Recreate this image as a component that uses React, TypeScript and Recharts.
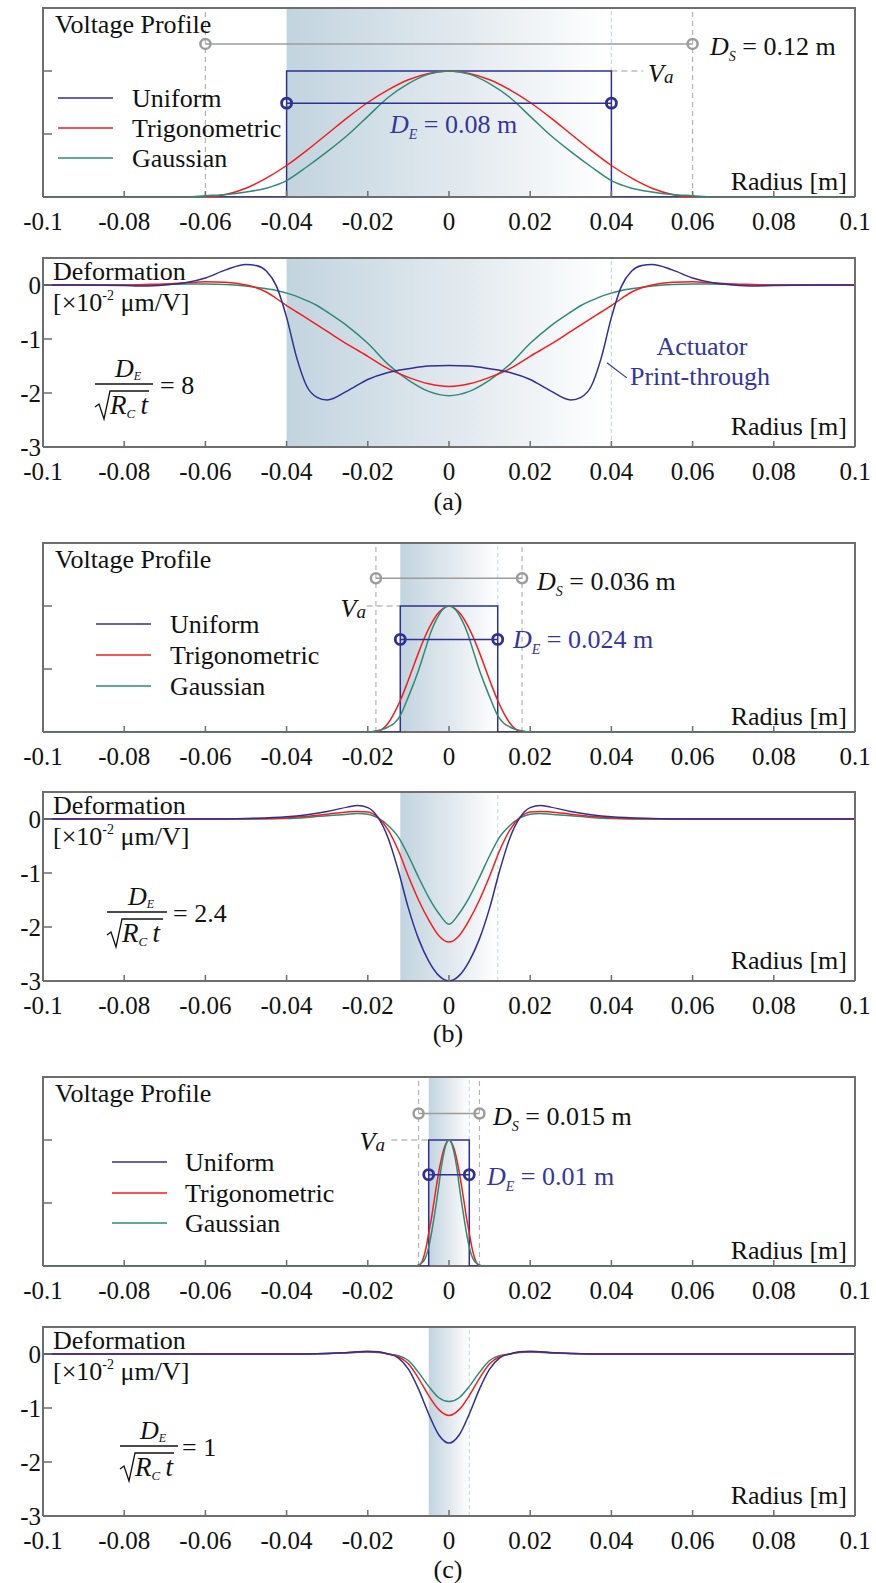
import {
  ComposedChart,
  Line,
  ReferenceArea,
  ReferenceDot,
  ReferenceLine,
  XAxis,
  YAxis,
} from "recharts";

// ---------- values ----------
const RADIUS_TICKS = [-0.1, -0.08, -0.06, -0.04, -0.02, 0, 0.02, 0.04, 0.06, 0.08, 0.1];
const VOLT_TICKS = [0.5, 1];
const DEFORM_TICKS = [-3, -2, -1, 0];
const LEGEND = ["Uniform", "Trigonometric", "Gaussian"];

// uniform (step) voltage profile
const STEP_LEVEL = [0, 0, 1, 1, 0, 0];
const R_STEP_A = [-0.1, -0.04, -0.04, 0.04, 0.04, 0.1];
const R_STEP_B = [-0.1, -0.012, -0.012, 0.012, 0.012, 0.1];
const R_STEP_C = [-0.1, -0.005, -0.005, 0.005, 0.005, 0.1];

// (a) voltage, trigonometric + gaussian
const R_VOLT_A = [
  -0.1, -0.065, -0.06, -0.055, -0.05, -0.045, -0.04, -0.035, -0.03, -0.025, -0.02, -0.015, -0.01, -0.005, 0,
  0.005, 0.01, 0.015, 0.02, 0.025, 0.03, 0.035, 0.04, 0.045, 0.05, 0.055, 0.06, 0.065, 0.1,
];
const TRIG_VOLT_A = [
  0, 0, 0, 0.02, 0.07, 0.15, 0.25, 0.37, 0.5, 0.63, 0.75, 0.85, 0.93, 0.98, 1,
  0.98, 0.93, 0.85, 0.75, 0.63, 0.5, 0.37, 0.25, 0.15, 0.07, 0.02, 0, 0, 0,
];
const GAUSS_VOLT_A = [
  0, 0, 0.01, 0.02, 0.04, 0.07, 0.13, 0.24, 0.36, 0.49, 0.64, 0.79, 0.9, 0.975, 1,
  0.975, 0.9, 0.79, 0.64, 0.49, 0.36, 0.24, 0.13, 0.07, 0.04, 0.02, 0.01, 0, 0,
];

// (b) voltage
const R_VOLT_B = [
  -0.1, -0.0195, -0.018, -0.0165, -0.015, -0.0135, -0.012, -0.0105, -0.009, -0.0075, -0.006, -0.0045, -0.003, -0.0015, 0,
  0.0015, 0.003, 0.0045, 0.006, 0.0075, 0.009, 0.0105, 0.012, 0.0135, 0.015, 0.0165, 0.018, 0.0195, 0.1,
];
const TRIG_VOLT_B = [
  0, 0, 0, 0.02, 0.07, 0.15, 0.25, 0.37, 0.5, 0.63, 0.75, 0.85, 0.93, 0.98, 1,
  0.98, 0.93, 0.85, 0.75, 0.63, 0.5, 0.37, 0.25, 0.15, 0.07, 0.02, 0, 0, 0,
];
const GAUSS_VOLT_B = [
  0, 0, 0.01, 0.02, 0.04, 0.07, 0.13, 0.24, 0.36, 0.49, 0.64, 0.79, 0.9, 0.975, 1,
  0.975, 0.9, 0.79, 0.64, 0.49, 0.36, 0.24, 0.13, 0.07, 0.04, 0.02, 0.01, 0, 0,
];

// (c) voltage
const R_VOLT_C = [
  -0.1, -0.008125, -0.0075, -0.006875, -0.00625, -0.005625, -0.005, -0.004375, -0.00375, -0.003125, -0.0025,
  -0.001875, -0.00125, -0.000625, 0, 0.000625, 0.00125, 0.001875, 0.0025, 0.003125, 0.00375, 0.004375, 0.005,
  0.005625, 0.00625, 0.006875, 0.0075, 0.008125, 0.1,
];
const TRIG_VOLT_C = [
  0, 0, 0, 0.02, 0.07, 0.15, 0.26, 0.37, 0.5, 0.63, 0.75, 0.85, 0.93, 0.98, 1,
  0.98, 0.93, 0.85, 0.75, 0.63, 0.5, 0.37, 0.26, 0.15, 0.07, 0.02, 0, 0, 0,
];
const GAUSS_VOLT_C = [
  0, 0, 0.01, 0.02, 0.04, 0.08, 0.15, 0.25, 0.37, 0.5, 0.64, 0.79, 0.9, 0.975, 1,
  0.975, 0.9, 0.79, 0.64, 0.5, 0.37, 0.25, 0.15, 0.08, 0.04, 0.02, 0.01, 0, 0,
];

// (a) deformation
const R_DEF_A = [
  -0.1, -0.09, -0.08, -0.075, -0.07, -0.065, -0.06, -0.055, -0.05, -0.0475, -0.045, -0.0425, -0.04, -0.0375, -0.035,
  -0.0325, -0.03, -0.025, -0.02, -0.015, -0.01, -0.005, 0, 0.005, 0.01, 0.015, 0.02, 0.025, 0.03, 0.0325, 0.035,
  0.0375, 0.04, 0.0425, 0.045, 0.0475, 0.05, 0.055, 0.06, 0.065, 0.07, 0.075, 0.08, 0.09, 0.1,
];
const UNI_DEF_A = [
  0, 0, -0.01, -0.02, 0, 0.04, 0.13, 0.28, 0.38, 0.36, 0.26, -0.02, -0.6, -1.35, -1.88,
  -2.08, -2.13, -1.96, -1.75, -1.62, -1.55, -1.5, -1.49, -1.5, -1.55, -1.62, -1.75, -1.96, -2.13, -2.08, -1.88,
  -1.35, -0.6, -0.02, 0.26, 0.36, 0.38, 0.28, 0.13, 0.04, 0, -0.02, -0.01, 0, 0,
];
const TRIG_DEF_A = [
  0, 0, 0, 0.01, 0.02, 0.04, 0.06, 0.05, 0, -0.05, -0.13, -0.25, -0.38, -0.5, -0.62,
  -0.74, -0.86, -1.1, -1.32, -1.55, -1.71, -1.83, -1.88, -1.83, -1.71, -1.55, -1.32, -1.1, -0.86, -0.74, -0.62,
  -0.5, -0.38, -0.25, -0.13, -0.05, 0, 0.05, 0.06, 0.04, 0.02, 0.01, 0, 0, 0,
];
const GAUSS_DEF_A = [
  0, 0, 0, 0, 0.01, 0.02, 0.02, 0.01, -0.02, -0.04, -0.07, -0.1, -0.15, -0.21, -0.29,
  -0.38, -0.5, -0.76, -1.08, -1.47, -1.76, -1.97, -2.05, -1.97, -1.76, -1.47, -1.08, -0.76, -0.5, -0.38, -0.29,
  -0.21, -0.15, -0.1, -0.07, -0.04, -0.02, 0.01, 0.02, 0.02, 0.01, 0, 0, 0, 0,
];

// (b) deformation
const R_DEF_B = [
  -0.1, -0.06, -0.05, -0.04, -0.035, -0.03, -0.025, -0.0225, -0.02, -0.0175, -0.015, -0.0125, -0.01, -0.0075, -0.005,
  -0.0025, 0, 0.0025, 0.005, 0.0075, 0.01, 0.0125, 0.015, 0.0175, 0.02, 0.0225, 0.025, 0.03, 0.035, 0.04, 0.05,
  0.06, 0.1,
];
const UNI_DEF_B = [
  0, 0, 0.01, 0.04, 0.08, 0.14, 0.22, 0.25, 0.21, 0.03, -0.35, -0.95, -1.65, -2.22, -2.63,
  -2.9, -3, -2.9, -2.63, -2.22, -1.65, -0.95, -0.35, 0.03, 0.21, 0.25, 0.22, 0.14, 0.08, 0.04, 0.01,
  0, 0,
];
const TRIG_DEF_B = [
  0, 0, 0.005, 0.02, 0.05, 0.09, 0.13, 0.14, 0.13, 0.03, -0.2, -0.58, -1.06, -1.5, -1.87,
  -2.16, -2.28, -2.16, -1.87, -1.5, -1.06, -0.58, -0.2, 0.03, 0.13, 0.14, 0.13, 0.09, 0.05, 0.02, 0.005,
  0, 0,
];
const GAUSS_DEF_B = [
  0, 0, 0, 0.01, 0.03, 0.06, 0.09, 0.1, 0.09, 0.02, -0.12, -0.33, -0.68, -1.08, -1.45,
  -1.75, -1.95, -1.75, -1.45, -1.08, -0.68, -0.33, -0.12, 0.02, 0.09, 0.1, 0.09, 0.06, 0.03, 0.01, 0,
  0, 0,
];

// (c) deformation
const R_DEF_C = [
  -0.1, -0.04, -0.03, -0.025, -0.02, -0.0175, -0.015, -0.0125, -0.01, -0.0075, -0.005, -0.0025, 0,
  0.0025, 0.005, 0.0075, 0.01, 0.0125, 0.015, 0.0175, 0.02, 0.025, 0.03, 0.04, 0.1,
];
const UNI_DEF_C = [
  0, 0, 0.01, 0.03, 0.05, 0.04, 0, -0.07, -0.28, -0.65, -1.11, -1.5, -1.65,
  -1.5, -1.11, -0.65, -0.28, -0.07, 0, 0.04, 0.05, 0.03, 0.01, 0, 0,
];
const TRIG_DEF_C = [
  0, 0, 0.01, 0.025, 0.04, 0.035, 0, -0.05, -0.18, -0.45, -0.77, -1.03, -1.14,
  -1.03, -0.77, -0.45, -0.18, -0.05, 0, 0.035, 0.04, 0.025, 0.01, 0, 0,
];
const GAUSS_DEF_C = [
  0, 0, 0.01, 0.02, 0.035, 0.03, 0, -0.03, -0.12, -0.34, -0.6, -0.81, -0.88,
  -0.81, -0.6, -0.34, -0.12, -0.03, 0, 0.03, 0.035, 0.02, 0.01, 0, 0,
];

// ---------- layout / style ----------
const W = 876;
const H = 1583;
const PLOT_L = 43;
const PLOT_R = 855;
const PLOT_H = 189;
const AXIS_H = 46;
const TOP = { aV: 8, aD: 258, bV: 543, bD: 792, cV: 1077, cD: 1327 };

const FONT = "Liberation Serif, Times New Roman, Times, serif";
const FONT_STYLE = { fontFamily: FONT };
const NAVY = "#2f2f94";
const RED = "#f51d1d";
const TEAL = "#2f8a76";
const LABEL_BLUE = "#35359c";
const FRAME = "#6e6e6e";
const TEXT = "#111";
const GREY = "#9c9c9c";
const COLORS = [NAVY, RED, TEAL];

const pts = (xs: number[], vs: number[]) => xs.map((x, i) => ({ x, v: vs[i] }));

function radiusTick(p: any) {
  const { x, y, payload } = p;
  return (
    <g>
      <line x1={x} x2={x} y1={y} y2={y - 6} stroke={FRAME} strokeWidth={1.5} />
      <text x={x} y={y + 33} textAnchor="middle" style={FONT_STYLE} fontSize={25} fill={TEXT}>
        {String(payload.value)}
      </text>
    </g>
  );
}

function voltTick(p: any) {
  const { x, y } = p;
  return <line x1={x} x2={x + 9} y1={y} y2={y} stroke={FRAME} strokeWidth={1.5} />;
}

function deformTick(p: any) {
  const { x, y, payload } = p;
  return (
    <g>
      <line x1={x} x2={x + 9} y1={y} y2={y} stroke={FRAME} strokeWidth={1.5} />
      <text x={x - 2} y={y + 9} textAnchor="end" style={FONT_STYLE} fontSize={25} fill={TEXT}>
        {String(payload.value)}
      </text>
    </g>
  );
}

type Series = { xs: number[]; vs: number[]; color: string; step?: boolean };

function Panel({
  id,
  top,
  domain,
  ticks,
  tick,
  de,
  series,
  under,
  over,
}: {
  id: string;
  top: number;
  domain: [number, number];
  ticks: number[];
  tick: (p: any) => any;
  de: number;
  series: Series[];
  under?: any;
  over?: any;
}) {
  return (
    <div style={{ position: "absolute", left: 0, top, width: W, height: PLOT_H + AXIS_H }}>
      <ComposedChart width={W} height={PLOT_H + AXIS_H} margin={{ top: 0, right: W - PLOT_R, bottom: 0, left: 0 }}>
        <defs>
          <linearGradient id={id} x1="0" y1="0" x2="1" y2="0">
            <stop offset="0%" stopColor="#c2d4df" />
            <stop offset="55%" stopColor="#e3eaef" />
            <stop offset="100%" stopColor="#ffffff" />
          </linearGradient>
        </defs>
        <XAxis
          dataKey="x"
          type="number"
          domain={[-0.1, 0.1]}
          ticks={RADIUS_TICKS}
          interval={0}
          allowDataOverflow
          height={AXIS_H}
          tickSize={0}
          tickMargin={0}
          axisLine={false}
          tickLine={false}
          tick={radiusTick}
        />
        <YAxis
          type="number"
          domain={domain}
          ticks={ticks}
          interval={0}
          allowDataOverflow
          width={PLOT_L}
          tickSize={0}
          tickMargin={0}
          axisLine={false}
          tickLine={false}
          tick={tick}
        />
        <ReferenceArea
          x1={-de / 2}
          x2={de / 2}
          y1={domain[0]}
          y2={domain[1]}
          fill={`url(#${id})`}
          fillOpacity={1}
          stroke="none"
        />
        <ReferenceLine x={de / 2} stroke="#cddde8" strokeDasharray="4 3" strokeWidth={1.2} />
        {/* bottom edge of the frame, kept under the curves that run along it */}
        <ReferenceLine y={domain[0]} stroke={FRAME} strokeWidth={2} />
        {under}
        {series.map((s, i) => (
          <Line
            key={i}
            data={pts(s.xs, s.vs)}
            dataKey="v"
            type={s.step ? "linear" : "monotone"}
            stroke={s.color}
            strokeWidth={1.5}
            dot={false}
            activeDot={false}
            isAnimationActive={false}
          />
        ))}
        {over}
      </ComposedChart>
    </div>
  );
}

function VoltagePanel({
  id,
  top,
  de,
  ds,
  deY,
  dsY,
  vaFrom,
  vaTo,
  stepXs,
  xs,
  trig,
  gauss,
}: {
  id: string;
  top: number;
  de: number;
  ds: number;
  deY: number;
  dsY: number;
  vaFrom: number;
  vaTo: number;
  stepXs: number[];
  xs: number[];
  trig: number[];
  gauss: number[];
}) {
  const under = [
    <ReferenceLine key="l" x={-ds / 2} stroke="#b4b4b4" strokeDasharray="5 4" strokeWidth={1.2} />,
    <ReferenceLine key="r" x={ds / 2} stroke="#b4b4b4" strokeDasharray="5 4" strokeWidth={1.2} />,
    <ReferenceLine
      key="va"
      segment={[
        { x: vaFrom, y: 1 },
        { x: vaTo, y: 1 },
      ]}
      stroke={GREY}
      strokeDasharray="6 4"
      strokeWidth={1.2}
    />,
  ];
  const over = [
    <ReferenceLine
      key="ds"
      segment={[
        { x: -ds / 2, y: dsY },
        { x: ds / 2, y: dsY },
      ]}
      stroke={GREY}
      strokeWidth={1.5}
    />,
    <ReferenceDot key="dsl" x={-ds / 2} y={dsY} r={5} fill="none" stroke={GREY} strokeWidth={2.5} />,
    <ReferenceDot key="dsr" x={ds / 2} y={dsY} r={5} fill="none" stroke={GREY} strokeWidth={2.5} />,
    <ReferenceLine
      key="de"
      segment={[
        { x: -de / 2, y: deY },
        { x: de / 2, y: deY },
      ]}
      stroke={NAVY}
      strokeWidth={1.5}
    />,
    <ReferenceDot key="del" x={-de / 2} y={deY} r={5} fill="none" stroke={NAVY} strokeWidth={2.8} />,
    <ReferenceDot key="der" x={de / 2} y={deY} r={5} fill="none" stroke={NAVY} strokeWidth={2.8} />,
  ];
  return (
    <Panel
      id={id}
      top={top}
      domain={[0, 1.5]}
      ticks={VOLT_TICKS}
      tick={voltTick}
      de={de}
      under={under}
      over={over}
      series={[
        { xs: stepXs, vs: STEP_LEVEL, color: NAVY, step: true },
        { xs, vs: trig, color: RED },
        { xs, vs: gauss, color: TEAL },
      ]}
    />
  );
}

function DeformPanel({
  id,
  top,
  de,
  xs,
  uni,
  trig,
  gauss,
  over,
}: {
  id: string;
  top: number;
  de: number;
  xs: number[];
  uni: number[];
  trig: number[];
  gauss: number[];
  over?: any;
}) {
  return (
    <Panel
      id={id}
      top={top}
      domain={[-3, 0.5]}
      ticks={DEFORM_TICKS}
      tick={deformTick}
      de={de}
      over={over}
      series={[
        { xs, vs: gauss, color: TEAL },
        { xs, vs: trig, color: RED },
        { xs, vs: uni, color: NAVY },
      ]}
    />
  );
}

// ---------- text annotations ----------
function Sub({
  x,
  y,
  main,
  sub,
  rest,
  fill = TEXT,
  anchor = "start",
  subSize = 14,
  subDy = 6,
}: {
  x: number;
  y: number;
  main: string;
  sub: string;
  rest?: string;
  fill?: string;
  anchor?: "start" | "end" | "middle";
  subSize?: number;
  subDy?: number;
}) {
  return (
    <text x={x} y={y} fontSize={26} fill={fill} textAnchor={anchor}>
      <tspan fontStyle="italic">{main}</tspan>
      <tspan fontStyle="italic" fontSize={subSize} dy={subDy}>
        {sub}
      </tspan>
      {rest ? <tspan dy={-subDy}>{rest}</tspan> : null}
    </text>
  );
}

function Legend({ x0, x1, tx, ys }: { x0: number; x1: number; tx: number; ys: number[] }) {
  return (
    <g>
      {LEGEND.map((name, i) => (
        <g key={name}>
          <line x1={x0} x2={x1} y1={ys[i]} y2={ys[i]} stroke={COLORS[i]} strokeWidth={1.5} />
          <text x={tx} y={ys[i] + 9} fontSize={26} fill={TEXT}>
            {name}
          </text>
        </g>
      ))}
    </g>
  );
}

function Ratio({ x0, x1, bar, eqX, value }: { x0: number; x1: number; bar: number; eqX: number; value: string }) {
  const cx = (x0 + x1) / 2 + 4;
  return (
    <g fill={TEXT}>
      <text x={cx} y={bar - 7} textAnchor="middle" fontSize={26}>
        <tspan fontStyle="italic">D</tspan>
        <tspan fontStyle="italic" fontSize={12} dy={3}>
          E
        </tspan>
      </text>
      <line x1={x0} x2={x1} y1={bar} y2={bar} stroke={TEXT} strokeWidth={1.3} />
      <path
        d={`M${x0} ${bar + 23} L${x0 + 4} ${bar + 20} L${x0 + 9} ${bar + 35} L${x0 + 15} ${bar + 7} L${x1 - 4} ${bar + 7}`}
        fill="none"
        stroke={TEXT}
        strokeWidth={1.3}
      />
      <text x={x0 + 15} y={bar + 30} fontSize={27}>
        <tspan fontStyle="italic">R</tspan>
        <tspan fontStyle="italic" fontSize={13} dy={4}>
          C
        </tspan>
        <tspan fontStyle="italic" dy={-4}>
          {"\u2009t"}
        </tspan>
      </text>
      <text x={eqX} y={bar + 10} fontSize={26}>
        {"=\u00a0" + value}
      </text>
    </g>
  );
}

function DeformHeader({ top }: { top: number }) {
  return (
    <g fill={TEXT}>
      <text x={53} y={top + 22} fontSize={26}>
        Deformation
      </text>
      <text x={53} y={top + 53} fontSize={26}>
        [×10
        <tspan fontSize={14} dy={-11}>
          -2
        </tspan>
        <tspan dy={11}>{"\u00a0μm/V]"}</tspan>
      </text>
      <text x={847} y={top + 177} fontSize={26} textAnchor="end">
        Radius [m]
      </text>
    </g>
  );
}

function VoltHeader({ top }: { top: number }) {
  return (
    <g fill={TEXT}>
      <text x={55} y={top + 25} fontSize={26}>
        Voltage Profile
      </text>
      <text x={847} y={top + 182} fontSize={26} textAnchor="end">
        Radius [m]
      </text>
    </g>
  );
}

function Overlay() {
  const tops = [TOP.aV, TOP.aD, TOP.bV, TOP.bD, TOP.cV, TOP.cD];
  return (
    <svg width={W} height={H} style={{ position: "absolute", left: 0, top: 0, pointerEvents: "none", fontFamily: FONT }}>
      {tops.map((t) => (
        <path
          key={t}
          d={`M${PLOT_L} ${t + PLOT_H} V${t} H${PLOT_R} V${t + PLOT_H}`}
          fill="none"
          stroke={FRAME}
          strokeWidth={2}
        />
      ))}

      {/* (a) */}
      <VoltHeader top={TOP.aV} />
      <Legend x0={58} x1={113} tx={132} ys={[98, 128, 158]} />
      <Sub x={710} y={55} main="D" sub="S" rest={"\u00a0=\u00a00.12 m"} />
      <Sub x={648} y={82} main="V" sub="a" subSize={19} subDy={1} />
      <Sub x={390} y={133} main="D" sub="E" rest={"\u00a0=\u00a00.08 m"} fill={LABEL_BLUE} />
      <DeformHeader top={TOP.aD} />
      <Ratio x0={95} x1={153} bar={384} eqX={160} value="8" />
      <text x={702} y={355} fontSize={26} fill={LABEL_BLUE} textAnchor="middle">
        Actuator
      </text>
      <text x={630} y={385} fontSize={26} fill={LABEL_BLUE}>
        Print-through
      </text>
      <text x={448} y={510} fontSize={26} fill={TEXT} textAnchor="middle">
        (a)
      </text>

      {/* (b) */}
      <VoltHeader top={TOP.bV} />
      <Legend x0={96} x1={151} tx={170} ys={[624, 655, 686]} />
      <Sub x={537} y={590} main="D" sub="S" rest={"\u00a0=\u00a00.036 m"} />
      <Sub x={366} y={617} main="V" sub="a" subSize={19} subDy={1} anchor="end" />
      <Sub x={513} y={648} main="D" sub="E" rest={"\u00a0=\u00a00.024 m"} fill={LABEL_BLUE} />
      <DeformHeader top={TOP.bD} />
      <Ratio x0={107} x1={167} bar={912} eqX={173} value="2.4" />
      <text x={448} y={1042} fontSize={26} fill={TEXT} textAnchor="middle">
        (b)
      </text>

      {/* (c) */}
      <VoltHeader top={TOP.cV} />
      <Legend x0={112} x1={167} tx={185} ys={[1162, 1193, 1223]} />
      <Sub x={493} y={1125} main="D" sub="S" rest={"\u00a0=\u00a00.015 m"} />
      <Sub x={385} y={1150} main="V" sub="a" subSize={19} subDy={1} anchor="end" />
      <Sub x={487} y={1185} main="D" sub="E" rest={"\u00a0=\u00a00.01 m"} fill={LABEL_BLUE} />
      <DeformHeader top={TOP.cD} />
      <Ratio x0={120} x1={178} bar={1446} eqX={182} value="1" />
      <text x={448} y={1578} fontSize={26} fill={TEXT} textAnchor="middle">
        (c)
      </text>
    </svg>
  );
}

export default function App() {
  return (
    <div
      style={{
        position: "absolute",
        left: 0,
        top: 0,
        width: W,
        height: H,
        background: "#fff",
        overflow: "hidden",
        fontFamily: FONT,
      }}
    >
      <VoltagePanel
        id="shadeAV"
        top={TOP.aV}
        de={0.08}
        ds={0.12}
        deY={0.745}
        dsY={1.215}
        vaFrom={0.04}
        vaTo={0.0478}
        stepXs={R_STEP_A}
        xs={R_VOLT_A}
        trig={TRIG_VOLT_A}
        gauss={GAUSS_VOLT_A}
      />
      <DeformPanel
        id="shadeAD"
        top={TOP.aD}
        de={0.08}
        xs={R_DEF_A}
        uni={UNI_DEF_A}
        trig={TRIG_DEF_A}
        gauss={GAUSS_DEF_A}
        over={
          <ReferenceLine
            segment={[
              { x: 0.0389, y: -1.44 },
              { x: 0.0438, y: -1.72 },
            ]}
            stroke={LABEL_BLUE}
            strokeWidth={1.2}
          />
        }
      />
      <VoltagePanel
        id="shadeBV"
        top={TOP.bV}
        de={0.024}
        ds={0.036}
        deY={0.735}
        dsY={1.22}
        vaFrom={-0.0203}
        vaTo={-0.012}
        stepXs={R_STEP_B}
        xs={R_VOLT_B}
        trig={TRIG_VOLT_B}
        gauss={GAUSS_VOLT_B}
      />
      <DeformPanel
        id="shadeBD"
        top={TOP.bD}
        de={0.024}
        xs={R_DEF_B}
        uni={UNI_DEF_B}
        trig={TRIG_DEF_B}
        gauss={GAUSS_DEF_B}
      />
      <VoltagePanel
        id="shadeCV"
        top={TOP.cV}
        de={0.01}
        ds={0.015}
        deY={0.725}
        dsY={1.21}
        vaFrom={-0.0142}
        vaTo={-0.005}
        stepXs={R_STEP_C}
        xs={R_VOLT_C}
        trig={TRIG_VOLT_C}
        gauss={GAUSS_VOLT_C}
      />
      <DeformPanel
        id="shadeCD"
        top={TOP.cD}
        de={0.01}
        xs={R_DEF_C}
        uni={UNI_DEF_C}
        trig={TRIG_DEF_C}
        gauss={GAUSS_DEF_C}
      />
      <Overlay />
    </div>
  );
}
